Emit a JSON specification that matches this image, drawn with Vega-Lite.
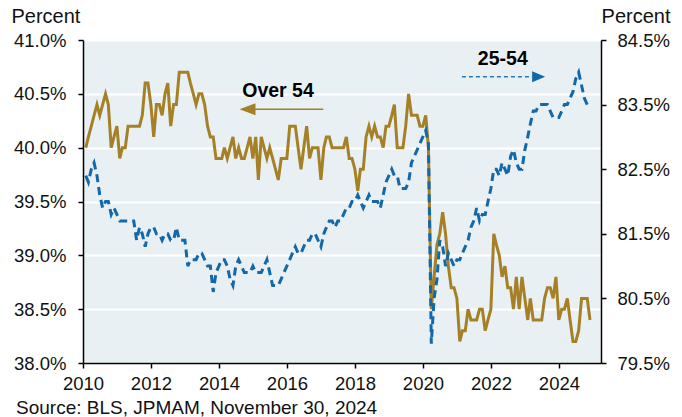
{
 "$schema": "https://vega.github.io/schema/vega-lite/v6.json",
 "width": 518,
 "height": 323,
 "autosize": {"type": "none"},
 "padding": {"left": 83, "top": 40, "right": 81, "bottom": 54},
 "background": "white",
 "datasets": {
  "series": [
   {"d":"2010-01-31","a":40.0,"b":82.4},{"d":"2010-02-28","a":40.1,"b":82.3},{"d":"2010-03-31","a":40.2,"b":82.5},{"d":"2010-04-30","a":40.3,"b":82.6},{"d":"2010-05-31","a":40.4,"b":82.4},{"d":"2010-06-30","a":40.3,"b":82.1},{"d":"2010-07-31","a":40.4,"b":81.9},{"d":"2010-08-31","a":40.5,"b":82.0},{"d":"2010-09-30","a":40.4,"b":82.0},{"d":"2010-10-31","a":40.0,"b":81.8},{"d":"2010-11-30","a":40.1,"b":81.9},{"d":"2010-12-31","a":40.2,"b":81.8},
   {"d":"2011-01-31","a":39.9,"b":81.7},{"d":"2011-02-28","a":40.0,"b":81.7},{"d":"2011-03-31","a":40.0,"b":81.7},{"d":"2011-04-30","a":40.2,"b":81.7},{"d":"2011-05-31","a":40.2,"b":81.7},{"d":"2011-06-30","a":40.2,"b":81.7},{"d":"2011-07-31","a":40.2,"b":81.4},{"d":"2011-08-31","a":40.2,"b":81.6},{"d":"2011-09-30","a":40.3,"b":81.5},{"d":"2011-10-31","a":40.6,"b":81.3},{"d":"2011-11-30","a":40.6,"b":81.5},{"d":"2011-12-31","a":40.4,"b":81.6},
   {"d":"2012-01-31","a":40.1,"b":81.6},{"d":"2012-02-29","a":40.4,"b":81.5},{"d":"2012-03-31","a":40.4,"b":81.5},{"d":"2012-04-30","a":40.3,"b":81.4},{"d":"2012-05-31","a":40.5,"b":81.5},{"d":"2012-06-30","a":40.6,"b":81.5},{"d":"2012-07-31","a":40.2,"b":81.4},{"d":"2012-08-31","a":40.4,"b":81.4},{"d":"2012-09-30","a":40.4,"b":81.6},{"d":"2012-10-31","a":40.7,"b":81.4},{"d":"2012-11-30","a":40.7,"b":81.4},{"d":"2012-12-31","a":40.7,"b":81.4},
   {"d":"2013-01-31","a":40.7,"b":81.0},{"d":"2013-02-28","a":40.6,"b":81.1},{"d":"2013-03-31","a":40.5,"b":81.1},{"d":"2013-04-30","a":40.4,"b":81.1},{"d":"2013-05-31","a":40.5,"b":81.2},{"d":"2013-06-30","a":40.5,"b":81.2},{"d":"2013-07-31","a":40.4,"b":81.1},{"d":"2013-08-31","a":40.2,"b":81.0},{"d":"2013-09-30","a":40.1,"b":81.0},{"d":"2013-10-31","a":40.1,"b":80.6},{"d":"2013-11-30","a":39.9,"b":80.9},{"d":"2013-12-31","a":39.9,"b":81.0},
   {"d":"2014-01-31","a":39.9,"b":81.1},{"d":"2014-02-28","a":40.0,"b":81.1},{"d":"2014-03-31","a":39.9,"b":81.0},{"d":"2014-04-30","a":40.0,"b":80.8},{"d":"2014-05-31","a":40.1,"b":80.7},{"d":"2014-06-30","a":39.9,"b":81.0},{"d":"2014-07-31","a":40.0,"b":81.1},{"d":"2014-08-31","a":39.9,"b":81.0},{"d":"2014-09-30","a":39.9,"b":80.9},{"d":"2014-10-31","a":40.0,"b":80.9},{"d":"2014-11-30","a":40.1,"b":80.9},{"d":"2014-12-31","a":39.9,"b":81.0},
   {"d":"2015-01-31","a":40.1,"b":80.9},{"d":"2015-02-28","a":39.7,"b":80.9},{"d":"2015-03-31","a":40.1,"b":80.9},{"d":"2015-04-30","a":40.0,"b":81.0},{"d":"2015-05-31","a":39.9,"b":81.1},{"d":"2015-06-30","a":40.0,"b":80.9},{"d":"2015-07-31","a":39.9,"b":80.7},{"d":"2015-08-31","a":39.8,"b":80.7},{"d":"2015-09-30","a":39.7,"b":80.7},{"d":"2015-10-31","a":39.9,"b":80.8},{"d":"2015-11-30","a":39.9,"b":80.9},{"d":"2015-12-31","a":39.9,"b":81.0},
   {"d":"2016-01-31","a":40.2,"b":81.1},{"d":"2016-02-29","a":40.2,"b":81.2},{"d":"2016-03-31","a":40.2,"b":81.3},{"d":"2016-04-30","a":40.0,"b":81.2},{"d":"2016-05-31","a":39.8,"b":81.2},{"d":"2016-06-30","a":40.0,"b":81.3},{"d":"2016-07-31","a":40.2,"b":81.4},{"d":"2016-08-31","a":39.9,"b":81.4},{"d":"2016-09-30","a":40.0,"b":81.5},{"d":"2016-10-31","a":40.0,"b":81.5},{"d":"2016-11-30","a":40.0,"b":81.4},{"d":"2016-12-31","a":39.7,"b":81.3},
   {"d":"2017-01-31","a":40.0,"b":81.5},{"d":"2017-02-28","a":40.1,"b":81.6},{"d":"2017-03-31","a":40.1,"b":81.7},{"d":"2017-04-30","a":40.0,"b":81.7},{"d":"2017-05-31","a":40.0,"b":81.6},{"d":"2017-06-30","a":40.0,"b":81.7},{"d":"2017-07-31","a":40.0,"b":81.7},{"d":"2017-08-31","a":40.0,"b":81.8},{"d":"2017-09-30","a":40.1,"b":81.9},{"d":"2017-10-31","a":39.9,"b":81.9},{"d":"2017-11-30","a":39.9,"b":82.0},{"d":"2017-12-31","a":39.8,"b":82.0},
   {"d":"2018-01-31","a":39.6,"b":82.1},{"d":"2018-02-28","a":39.8,"b":82.0},{"d":"2018-03-31","a":39.8,"b":81.9},{"d":"2018-04-30","a":40.1,"b":82.0},{"d":"2018-05-31","a":40.2,"b":82.1},{"d":"2018-06-30","a":40.1,"b":82.0},{"d":"2018-07-31","a":40.2,"b":82.0},{"d":"2018-08-31","a":40.1,"b":82.0},{"d":"2018-09-30","a":40.1,"b":81.9},{"d":"2018-10-31","a":40.0,"b":82.1},{"d":"2018-11-30","a":40.2,"b":82.3},{"d":"2018-12-31","a":40.2,"b":82.4},
   {"d":"2019-01-31","a":40.3,"b":82.5},{"d":"2019-02-28","a":40.4,"b":82.4},{"d":"2019-03-31","a":40.0,"b":82.4},{"d":"2019-04-30","a":40.0,"b":82.2},{"d":"2019-05-31","a":40.0,"b":82.2},{"d":"2019-06-30","a":40.2,"b":82.2},{"d":"2019-07-31","a":40.5,"b":82.3},{"d":"2019-08-31","a":40.3,"b":82.6},{"d":"2019-09-30","a":40.3,"b":82.7},{"d":"2019-10-31","a":40.3,"b":82.8},{"d":"2019-11-30","a":40.2,"b":82.9},{"d":"2019-12-31","a":40.2,"b":83.0},
   {"d":"2020-01-31","a":40.3,"b":83.1},{"d":"2020-02-29","a":40.0,"b":82.9},{"d":"2020-03-31","a":38.5,"b":79.8},{"d":"2020-04-30","a":38.8,"b":80.5},{"d":"2020-05-31","a":39.1,"b":80.8},{"d":"2020-06-30","a":39.2,"b":81.4},{"d":"2020-07-31","a":39.4,"b":81.3},{"d":"2020-08-31","a":39.2,"b":81.0},{"d":"2020-09-30","a":38.9,"b":81.2},{"d":"2020-10-31","a":38.7,"b":81.1},{"d":"2020-11-30","a":38.7,"b":81.0},{"d":"2020-12-31","a":38.6,"b":81.1},
   {"d":"2021-01-31","a":38.2,"b":81.1},{"d":"2021-02-28","a":38.3,"b":81.2},{"d":"2021-03-31","a":38.3,"b":81.3},{"d":"2021-04-30","a":38.5,"b":81.4},{"d":"2021-05-31","a":38.4,"b":81.6},{"d":"2021-06-30","a":38.4,"b":81.7},{"d":"2021-07-31","a":38.4,"b":81.9},{"d":"2021-08-31","a":38.5,"b":81.7},{"d":"2021-09-30","a":38.5,"b":81.8},{"d":"2021-10-31","a":38.3,"b":81.8},{"d":"2021-11-30","a":38.4,"b":82.0},{"d":"2021-12-31","a":38.5,"b":82.2},
   {"d":"2022-01-31","a":39.2,"b":82.5},{"d":"2022-02-28","a":39.1,"b":82.5},{"d":"2022-03-31","a":39.0,"b":82.4},{"d":"2022-04-30","a":38.8,"b":82.6},{"d":"2022-05-31","a":38.9,"b":82.5},{"d":"2022-06-30","a":38.7,"b":82.4},{"d":"2022-07-31","a":38.7,"b":82.7},{"d":"2022-08-31","a":38.5,"b":82.8},{"d":"2022-09-30","a":38.8,"b":82.6},{"d":"2022-10-31","a":38.5,"b":82.5},{"d":"2022-11-30","a":38.8,"b":82.5},{"d":"2022-12-31","a":38.6,"b":82.8},
   {"d":"2023-01-31","a":38.4,"b":83.0},{"d":"2023-02-28","a":38.6,"b":83.2},{"d":"2023-03-31","a":38.4,"b":83.4},{"d":"2023-04-30","a":38.4,"b":83.4},{"d":"2023-05-31","a":38.4,"b":83.5},{"d":"2023-06-30","a":38.4,"b":83.5},{"d":"2023-07-31","a":38.6,"b":83.5},{"d":"2023-08-31","a":38.7,"b":83.5},{"d":"2023-09-30","a":38.7,"b":83.4},{"d":"2023-10-31","a":38.6,"b":83.3},{"d":"2023-11-30","a":38.8,"b":83.3},{"d":"2023-12-31","a":38.4,"b":83.3},
   {"d":"2024-01-31","a":38.5,"b":83.4},{"d":"2024-02-29","a":38.5,"b":83.5},{"d":"2024-03-31","a":38.6,"b":83.5},{"d":"2024-04-30","a":38.4,"b":83.6},{"d":"2024-05-31","a":38.2,"b":83.7},{"d":"2024-06-30","a":38.2,"b":83.9},{"d":"2024-07-31","a":38.3,"b":84.0},{"d":"2024-08-31","a":38.6,"b":83.8},{"d":"2024-09-30","a":38.6,"b":83.6},{"d":"2024-10-31","a":38.6,"b":83.5},{"d":"2024-11-30","a":38.4,"b":83.5}
  ]
 },
 "title": {
  "text": "Source: BLS, JPMAM, November 30, 2024",
  "orient": "bottom", "anchor": "start", "frame": "group",
  "dx": -67, "offset": 6, "baseline": "top",
  "fontSize": 19, "fontWeight": "normal", "color": "#111", "font": "Liberation Sans"
 },
 "encoding": {
  "x": {
   "field": "d", "type": "temporal",
   "scale": {"type": "utc", "domain": ["2010-01-01", "2025-03-28"]},
   "axis": {
    "format": "%Y", "tickCount": {"interval": "year", "step": 2},
    "grid": false, "title": null, "labelFlush": false,
    "domainColor": "#000", "domainWidth": 1.5,
    "tickColor": "#000", "tickWidth": 1.5, "tickSize": 5,
    "labelFontSize": 18.5, "labelPadding": 6, "labelColor": "#111"
   }
  }
 },
 "layer": [
  {
   "encoding": {
    "y": {
     "field": "a", "type": "quantitative",
     "scale": {"domain": [38, 41], "nice": false, "zero": false},
     "axis": {
      "orient": "left",
      "values": [38, 38.5, 39, 39.5, 40, 40.5, 41],
      "labelExpr": "format(datum.value, '.1f') + '%'",
      "grid": true, "gridColor": "#ffffff", "gridWidth": 2,
      "domainColor": "#000", "domainWidth": 1.5,
      "tickColor": "#000", "tickWidth": 1.5, "tickSize": 5,
      "labelFontSize": 18.5, "labelPadding": 12, "labelColor": "#111", "labelFlush": false,
      "title": "Percent", "titleAngle": 0, "titleAlign": "left", "titleBaseline": "alphabetic",
      "titleX": -72, "titleY": -18, "titleFontSize": 20, "titleFontWeight": "normal", "titleColor": "#111"
     }
    }
   },
   "layer": [
    {"data": {"name": "series"}, "mark": {"type": "line", "color": "#A58026", "strokeWidth": 3}},
    {"data": {"values": [{"d": "2015-09-27", "a": 40.473, "t": "Over 54"}]},
     "mark": {"type": "text", "fontWeight": "bold", "fontSize": 19.5, "baseline": "alphabetic", "align": "center", "color": "#000", "font": "Liberation Sans"},
     "encoding": {"text": {"field": "t"}}},
    {"data": {"values": [{"d": "2017-01-26", "d2": "2015-01-20", "a": 40.356}]},
     "mark": {"type": "rule", "color": "#A58026", "strokeWidth": 1.5},
     "encoding": {"x2": {"field": "d2"}}},
    {"data": {"values": [{"d": "2014-11-03", "a": 40.356}]},
     "mark": {"type": "point", "shape": "M1,-0.75L-1,0L1,0.75Z", "size": 256, "filled": true, "color": "#A58026", "opacity": 1}}
   ]
  },
  {
   "encoding": {
    "y": {
     "field": "b", "type": "quantitative",
     "scale": {"domain": [79.5, 84.5], "nice": false, "zero": false},
     "axis": {
      "orient": "right",
      "values": [79.5, 80.5, 81.5, 82.5, 83.5, 84.5],
      "labelExpr": "format(datum.value, '.1f') + '%'",
      "grid": false,
      "domainColor": "#000", "domainWidth": 1.5,
      "tickColor": "#000", "tickWidth": 1.5, "tickSize": 5,
      "labelFontSize": 18.5, "labelPadding": 11, "labelColor": "#111", "labelFlush": false,
      "title": "Percent", "titleAngle": 0, "titleAlign": "right", "titleBaseline": "alphabetic",
      "titleX": 69, "titleY": -18, "titleFontSize": 20, "titleFontWeight": "normal", "titleColor": "#111"
     }
    }
   },
   "layer": [
    {"data": {"name": "series"}, "mark": {"type": "line", "color": "#1368A8", "strokeWidth": 3, "strokeDash": [8, 5]}},
    {"data": {"values": [{"d": "2022-05-08", "b": 84.113, "t": "25-54"}]},
     "mark": {"type": "text", "fontWeight": "bold", "fontSize": 19.5, "baseline": "alphabetic", "align": "center", "color": "#000", "font": "Liberation Sans"},
     "encoding": {"text": {"field": "t"}}},
    {"data": {"values": [{"d": "2021-02-23", "d2": "2023-03-19", "b": 83.932}]},
     "mark": {"type": "rule", "color": "#2A7AB8", "strokeWidth": 1.5, "strokeDash": [4, 3]},
     "encoding": {"x2": {"field": "d2"}}},
    {"data": {"values": [{"d": "2023-05-28", "b": 83.932}]},
     "mark": {"type": "point", "shape": "M-1,-0.85L1,0L-1,0.85Z", "size": 169, "filled": true, "color": "#1368A8", "opacity": 1}}
   ]
  }
 ],
 "resolve": {"scale": {"y": "independent"}, "axis": {"y": "independent"}},
 "config": {
  "font": "Liberation Sans",
  "view": {"fill": "#e8f0f3", "stroke": null},
  "axis": {"labelFont": "Liberation Sans", "titleFont": "Liberation Sans"},
  "text": {"font": "Liberation Sans"}
 }
}
